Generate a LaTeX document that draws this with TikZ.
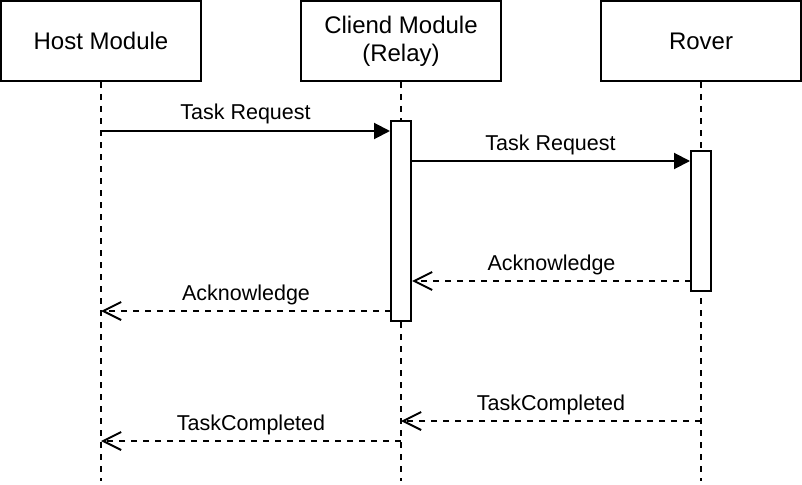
\documentclass[tikz,border=0pt]{standalone}
\usepackage{fontspec}
\setmainfont{Liberation Sans}
\usetikzlibrary{arrows.meta}
\begin{document}
\begin{tikzpicture}[x=1pt,y=-1pt,
  every node/.style={font=\fontsize{21.5}{25}\selectfont},
  actor/.style={draw,line width=2pt,minimum width=200pt,minimum height=80pt,inner sep=0pt,align=center,font=\fontsize{24}{28}\selectfont},
  actbox/.style={draw,fill=white,line width=2pt,minimum width=20pt,inner sep=0pt},
  lifeline/.style={line width=2pt,dash pattern=on 6pt off 6pt},
  msg/.style={line width=2pt,-{Triangle[length=16pt,width=16pt]}},
  reply/.style={line width=2pt,dash pattern=on 6pt off 6pt,-{Straight Barb[length=18pt,width=18pt,line width=2pt]}},
  lbl/.style={anchor=base,yshift=11pt,inner sep=0pt}]
\useasboundingbox (0,0) rectangle (802,484);
\node[actor] (host) at (101,41) {Host Module};
\node[actor] (cli) at (401,41) {Cliend Module\\(Relay)};
\node[actor] (rov) at (701,41) {Rover};
\coordinate (hend) at (101,481);
\coordinate (cend) at (401,481);
\coordinate (rend) at (701,481);
\draw[lifeline] (host.south) -- (hend);
\draw[lifeline] (cli.south) -- (cend);
\draw[lifeline] (rov.south) -- (rend);
\node[actbox,minimum height=200pt] (act1) at (401,221) {};
\node[actbox,minimum height=140pt] (act2) at (701,221) {};
% messages
\coordinate (h1) at (101,131);
\draw[msg] (h1) -- (act1.west |- h1) node[midway,lbl] {Task Request};
\coordinate (c1) at (411,161);
\draw[msg] (c1) -- (act2.west |- c1) node[midway,lbl] {Task Request};
\coordinate (r1) at (691,281);
\draw[reply] (r1) -- (act1.east |- r1) node[midway,lbl] {Acknowledge};
\coordinate (c2) at (391,311);
\draw[reply] (c2) -- (host.south |- c2) node[midway,lbl] {Acknowledge};
\coordinate (r2) at (701,421);
\draw[reply] (r2) -- (cli.south |- r2) node[midway,lbl] {TaskCompleted};
\coordinate (c3) at (401,441);
\draw[reply] (c3) -- (host.south |- c3) node[midway,lbl] {TaskCompleted};
\end{tikzpicture}
\end{document}
